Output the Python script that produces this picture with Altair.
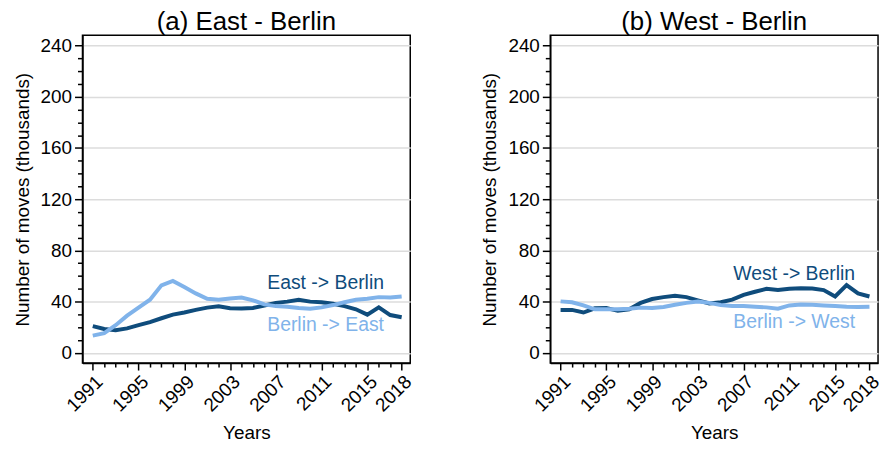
import altair as alt
import pandas as pd

years = list(range(1991, 2019))
major_years = [1991, 1995, 1999, 2003, 2007, 2011, 2015, 2018]

east_to_berlin = [20.9, 18.6, 17.7, 19.1, 21.6, 24.0, 27.0, 29.8, 31.5, 33.5,
                  35.3, 36.3, 34.8, 34.6, 35.0, 37.0, 39.0, 40.0, 41.5, 40.0,
                  39.5, 38.3, 36.5, 34.0, 29.8, 35.5, 29.5, 27.8]
berlin_to_east = [13.4, 15.4, 21.6, 29.0, 35.3, 41.5, 52.7, 56.1, 51.4, 46.4,
                  42.2, 41.5, 42.5, 43.2, 41.0, 37.8, 36.5, 36.0, 35.0, 34.5,
                  35.5, 37.3, 39.5, 41.5, 42.2, 43.5, 43.2, 44.0]
west_to_berlin = [33.5, 33.5, 31.5, 34.8, 35.0, 32.8, 34.0, 39.0, 42.0, 43.5,
                  44.5, 43.5, 41.0, 38.5, 39.5, 41.5, 45.2, 47.7, 50.0, 49.0,
                  50.0, 50.4, 50.2, 49.0, 44.0, 52.9, 46.4, 44.0]
berlin_to_west = [40.2, 39.5, 37.0, 34.0, 34.0, 34.0, 34.5, 35.3, 35.0, 35.8,
                  37.5, 39.0, 40.0, 39.0, 37.3, 36.5, 36.5, 36.0, 35.5, 34.5,
                  37.0, 37.8, 37.5, 37.0, 36.5, 36.0, 35.8, 36.0]

panel_titles = ["(a) East - Berlin", "(b) West - Berlin"]
series_names = [["East -> Berlin", "Berlin -> East"], ["West -> Berlin", "Berlin -> West"]]
series_values = [[east_to_berlin, berlin_to_east], [west_to_berlin, berlin_to_west]]
label_year = [[2006.25, 2006.25], [2006.1, 2006.1]]
label_value = [[54.4, 21.6], [61.2, 23.8]]

DARK = "#0f4c7c"
LIGHT = "#80b3ea"
FONT = "Liberation Sans"

x_major = "indexof([" + ",".join(str(v) for v in major_years) + "], datum.value) >= 0"


def panel(i):
    rows = []
    for name, vals in zip(series_names[i], series_values[i]):
        for y, v in zip(years, vals):
            rows.append({"year": y, "value": v, "series": name})
    df = pd.DataFrame(rows)
    lab = pd.DataFrame({
        "year": label_year[i],
        "value": label_value[i],
        "series": series_names[i],
    })
    color = alt.Color("series:N",
                      scale=alt.Scale(domain=series_names[i], range=[DARK, LIGHT]),
                      legend=None)
    x = alt.X("year:Q",
              scale=alt.Scale(domain=[1990.1, 2018.75], nice=False, zero=False),
              axis=alt.Axis(values=years, tickCount=60, format="d", labelAngle=-45,
                            labelExpr=f"{x_major} ? datum.label : ''",
                            labelOverlap=False, labelBound=False, labelFlush=False,
                            tickSize={"condition": {"test": x_major, "value": 7}, "value": 4},
                            tickColor="black", domainColor="black", tickWidth=1.5, domainWidth=1.5,
                            labelFontSize=19, labelColor="black", labelPadding=2,
                            titleFontSize=19, titleFontWeight="normal",
                            titleColor="black", titlePadding=9, grid=False),
              title="Years")
    y = alt.Y("value:Q",
              scale=alt.Scale(domain=[-8, 248], nice=False, zero=False),
              axis=alt.Axis(values=list(range(0, 250, 10)), tickCount=60,
                            labelExpr="datum.value % 40 === 0 ? datum.label : ''",
                            labelOverlap=False,
                            tickSize={"condition": {"test": "datum.value % 40 === 0", "value": 8}, "value": 5},
                            gridOpacity={"condition": {"test": "datum.value % 40 === 0", "value": 1}, "value": 0},
                            grid=True, gridColor="#dcdcdc", gridWidth=1.5,
                            tickColor="black", domainColor="black", tickWidth=1.5, domainWidth=1.5,
                            labelFontSize=19, labelColor="black", labelPadding=3,
                            titleFontSize=19, titleFontWeight="normal", titleColor="black",
                            titlePadding=8),
              title="Number of moves (thousands)")
    lines = alt.Chart(df).mark_line(strokeWidth=4).encode(x=x, y=y, color=color, detail="series:N")
    texts = alt.Chart(lab).mark_text(align="left", baseline="middle", fontSize=19.5, font=FONT).encode(
        x="year:Q", y="value:Q", text="series:N", color=color)
    return alt.layer(lines, texts).properties(
        width=330, height=330,
        title=alt.TitleParams(panel_titles[i], fontSize=26, fontWeight="normal", font=FONT,
                              color="black", anchor="middle", offset=0),
    )


chart = alt.hconcat(panel(0), panel(1), spacing=64).properties(
    padding={"left": 4, "top": -1, "right": 0, "bottom": 0}
).configure(font=FONT).configure_view(stroke="black", strokeWidth=1.5).configure_axis(
    labelFont=FONT, titleFont=FONT, labelOverlap=False
)

chart.save("out.html", embed_options={"renderer": "svg", "actions": False})
